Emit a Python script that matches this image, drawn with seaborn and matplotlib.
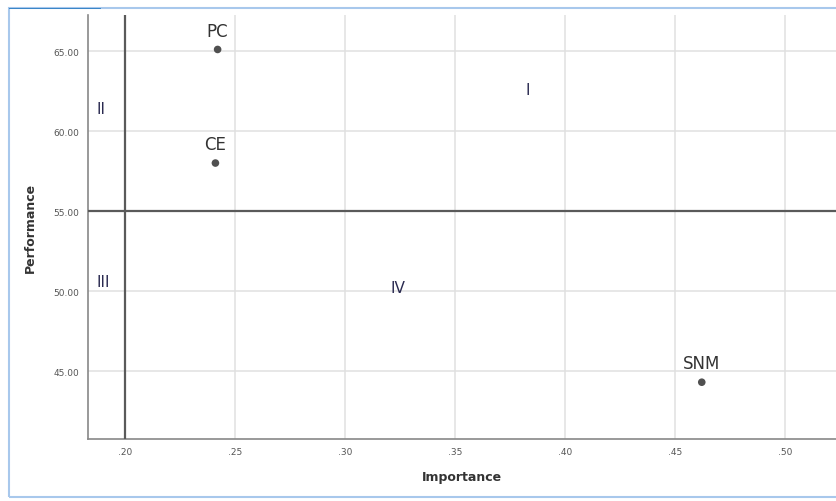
import numpy as np
import pandas as pd
import seaborn as sns
import matplotlib.pyplot as plt
from matplotlib.patches import Rectangle

# values
factors = ['PC', 'CE', 'SNM']
importance = [0.242, 0.241, 0.462]
performance = [65.1, 58.0, 44.3]

quadrants = ['I', 'II', 'III', 'IV']
quad_x = [0.383, 0.189, 0.190, 0.324]
quad_y = [62.6, 61.4, 50.6, 50.2]

x_cut = 0.20
y_cut = 55.0
x_ticks = [0.20, 0.25, 0.30, 0.35, 0.40, 0.45, 0.50]
x_tick_labels = ['.20', '.25', '.30', '.35', '.40', '.45', '.50']
y_ticks = [45, 50, 55, 60, 65]
y_tick_labels = ['45.00', '50.00', '55.00', '60.00', '65.00']

data = pd.DataFrame({'factor': factors, 'Importance': importance, 'Performance': performance})

sns.set_style('whitegrid')
plt.rcParams['font.family'] = ['DejaVu Sans']

fig = plt.figure(figsize=(8.36, 5.02), dpi=100)
ax = fig.add_axes([0.105, 0.1235, 0.895, 0.8445])

sns.scatterplot(data=data, x='Importance', y='Performance', ax=ax,
                color='#505050', s=30, edgecolor='none', zorder=4)

for _, r in data.iterrows():
    ax.annotate(r['factor'], (r['Importance'], r['Performance']),
                xytext=(0, 7), textcoords='offset points',
                ha='center', va='bottom', fontsize=12, color='#333333')

for q, qx, qy in zip(quadrants, quad_x, quad_y):
    ax.text(qx, qy, q, ha='center', va='center', fontsize=11, color='#2a2a50')

ax.axvline(x_cut, color='#5a5a5a', lw=1.6, zorder=3)
ax.axhline(y_cut, color='#5a5a5a', lw=1.6, zorder=3)

ax.set_xlim(0.183, 0.523)
ax.set_ylim(40.75, 67.25)
ax.set_xticks(x_ticks)
ax.set_xticklabels(x_tick_labels)
ax.set_yticks(y_ticks)
ax.set_yticklabels(y_tick_labels)
ax.tick_params(axis='both', labelsize=6.5, labelcolor='#555555', length=0, pad=6)
ax.grid(True, color='#e0e0e0', lw=1.1)

ax.set_xlabel('Importance', fontsize=9, fontweight='bold', color='#333333', labelpad=10)
ax.set_ylabel('Performance', fontsize=9, fontweight='bold', color='#333333', labelpad=12)

for side in ['top', 'right']:
    ax.spines[side].set_visible(False)
for side in ['left', 'bottom']:
    ax.spines[side].set_color('#888888')
    ax.spines[side].set_linewidth(1.2)

# light blue frame round the picture
fig.patches.append(Rectangle((9 / 836, 4 / 502), 840 / 836, 489 / 502,
                             transform=fig.transFigure, fill=False,
                             edgecolor='#a8c8ec', lw=1.5))
fig.patches.append(Rectangle((9 / 836, 492 / 502), 92 / 836, 1.5 / 502,
                             transform=fig.transFigure, fill=True,
                             color='#3a86c8', lw=0))

fig.savefig('out.png', dpi=100)
